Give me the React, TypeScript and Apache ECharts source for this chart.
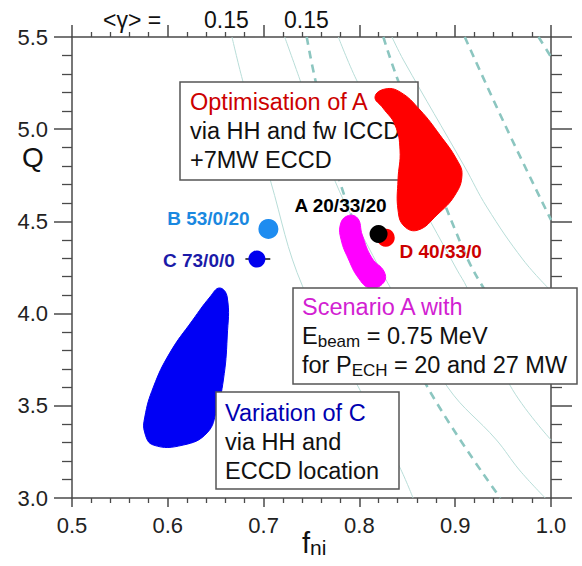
import React, { useEffect, useRef } from "react";
import * as echarts from "echarts";

// ---- axis ranges / ticks ----
const xMin = 0.5, xMax = 1.0, xStep = 0.1;
const yMin = 3.0, yMax = 5.5, yStep = 0.5;
const gammaTexts = ["<γ> =", "0.15", "0.15"];

// ---- contour lines (thin family) [f_ni, Q] ----
const thin1 = [[0.667, 5.5], [0.678, 5.267], [0.707, 4.724], [0.741, 4.144], [0.795, 3.64], [0.842, 3.168], [0.856, 3.0]];
const thin2 = [[0.722, 5.5], [0.738, 5.267], [0.775, 4.714], [0.811, 4.345], [0.832, 4.144], [0.892, 3.602], [0.943, 3.315], [0.967, 3.152], [0.994, 3.0]];
const thin3 = [[0.778, 5.5], [0.797, 5.267], [0.848, 4.752], [0.902, 4.236], [0.912, 4.144], [0.957, 3.613], [1.0, 3.315]];
const thin4 = [[0.834, 5.5], [0.846, 5.375], [0.91, 4.795], [0.933, 4.578], [0.971, 4.291], [1.0, 4.123]];
// ---- contour lines (dashed family) ----
const dash1 = [[0.745, 5.5], [0.754, 5.267], [0.78, 4.708], [0.822, 4.155], [0.871, 3.602], [0.947, 3.0]];
const dash2 = [[0.825, 5.5], [0.839, 5.283], [0.9, 4.453], [0.929, 4.144], [1.0, 3.613]];
const dash3 = [[0.91, 5.5], [0.952, 5.023], [1.0, 4.508]];
const dash4 = [[0.987, 5.5], [1.0, 5.392]];

// ---- regions ----
const redRegion = [[0.8163, 5.175], [0.8267, 5.218], [0.8424, 5.202], [0.8633, 5.104], [0.8841, 4.968], [0.9019, 4.833], [0.9071, 4.752], [0.8998, 4.643], [0.881, 4.535], [0.8612, 4.453], [0.8466, 4.475], [0.8403, 4.562], [0.8403, 4.725], [0.8424, 4.887], [0.8372, 5.023], [0.8246, 5.115]];
const pinkRegion = [[0.78, 4.48], [0.787, 4.529], [0.798, 4.518], [0.803, 4.426], [0.813, 4.302], [0.826, 4.226], [0.825, 4.166], [0.811, 4.139], [0.799, 4.193], [0.788, 4.302], [0.781, 4.399]];
const blueRegion = [[0.654, 4.139], [0.662, 4.09], [0.662, 3.873], [0.658, 3.64], [0.651, 3.477], [0.641, 3.353], [0.616, 3.287], [0.585, 3.287], [0.576, 3.353], [0.576, 3.439], [0.585, 3.602], [0.602, 3.786], [0.626, 3.965], [0.644, 4.09]];

// ---- scenario points ----
const pointA = [0.82, 4.432];
const pointB = [0.705, 4.459];
const pointC = [0.693, 4.296];
const pointD = [0.8275, 4.412];
const errorC = [[0.681, 4.296], [0.707, 4.296]];
const labelA = "A 20/33/20";
const labelB = "B 53/0/20";
const labelC = "C 73/0/0";
const labelD = "D 40/33/0";

const FONT = "'Liberation Sans', Arial, sans-serif";
const AX = "#4a4a4a";

function axisBase(pos: string, showLabel: boolean, tickLen: number, minorLen: number, isX: boolean) {
  return {
    type: "value",
    position: pos,
    min: isX ? xMin : yMin,
    max: isX ? xMax : yMax,
    interval: isX ? xStep : yStep,
    axisLine: { show: true, onZero: false, lineStyle: { color: AX, width: 1.5 } },
    axisTick: { show: true, inside: false, length: tickLen, lineStyle: { color: AX, width: 1.5 } },
    minorTick: { show: true, splitNumber: 5, length: minorLen, lineStyle: { color: AX, width: 1.3 } },
    splitLine: { show: false },
    minorSplitLine: { show: false },
    axisLabel: {
      show: showLabel,
      formatter: (v: number) => v.toFixed(1),
      fontSize: 22,
      color: "#222",
      fontFamily: FONT,
      margin: isX ? 16 : 24,
      showMinLabel: true,
      showMaxLabel: true,
    },
  };
}

function regionSeries(pts: number[][], color: string, z: number) {
  return {
    type: "custom",
    z,
    silent: true,
    data: [pts[0]],
    renderItem: (_p: any, api: any) => ({
      type: "polygon",
      shape: { points: pts.map((p) => api.coord(p)), smooth: 0.45 },
      style: { fill: color, stroke: color, lineWidth: 1 },
    }),
  };
}

function lineSeries(pts: number[][], dashed: boolean) {
  return {
    type: "line",
    data: pts,
    smooth: 0.4,
    showSymbol: false,
    silent: true,
    z: 1,
    lineStyle: dashed
      ? { color: "#8cc6c0", width: 2.6, type: [8, 6] }
      : { color: "#b8ddd8", width: 1 },
  };
}

function pointSeries(pt: number[], color: string, size: number, z: number, text: string, textColor: string, offset: number[]) {
  return {
    type: "scatter",
    data: [pt],
    symbolSize: size,
    z,
    itemStyle: { color, opacity: 1 },
    label: {
      show: true,
      position: "inside",
      offset,
      formatter: text,
      fontSize: 19,
      fontWeight: "bold",
      fontFamily: FONT,
      color: textColor,
    },
  };
}

function box(x: number, y: number, w: number, h: number, z: number) {
  return {
    type: "rect",
    z,
    shape: { x, y, width: w, height: h },
    style: { fill: "#fff", stroke: "#555", lineWidth: 1.5 },
  };
}

function txt(x: number, y: number, text: string, rich: any, z: number) {
  return {
    type: "text",
    z,
    x,
    y,
    style: { text, rich, fontFamily: FONT, fontSize: 23, fill: "#111" },
  };
}

const richBox = (mainColor: string) => ({
  m: { fontSize: 23.5, lineHeight: 29, fill: mainColor, fontFamily: FONT },
  n: { fontSize: 23.5, lineHeight: 29, fill: "#111", fontFamily: FONT },
  s: { fontSize: 17, lineHeight: 9, fill: "#111", fontFamily: FONT, verticalAlign: "bottom" },
});

export default function App() {
  const ref = useRef<HTMLDivElement>(null);
  useEffect(() => {
    if (!ref.current) return;
    const chart = echarts.init(ref.current, undefined, { renderer: "svg" });
    chart.setOption({
      animation: false,
      backgroundColor: "#fff",
      grid: { left: 72, top: 37, right: 31, bottom: 68, containLabel: false },
      xAxis: [axisBase("bottom", true, 9, 5, true), axisBase("top", false, 12, 5, true)],
      yAxis: [axisBase("left", true, 18, 10, false), axisBase("right", false, 21, 11, false)],
      series: [
        lineSeries(thin1, false),
        lineSeries(thin2, false),
        lineSeries(thin3, false),
        lineSeries(thin4, false),
        lineSeries(dash1, true),
        lineSeries(dash2, true),
        lineSeries(dash3, true),
        lineSeries(dash4, true),
        regionSeries(blueRegion, "#0000f5", 5),
        regionSeries(pinkRegion, "#ff00ff", 5),
        regionSeries(redRegion, "#ff0000", 12),
        {
          type: "line",
          data: errorC,
          showSymbol: false,
          silent: true,
          z: 11,
          lineStyle: { color: "#111", width: 1.5 },
        },
        pointSeries(pointB, "#1e8cf0", 20, 13, labelB, "#1a88e0", [-60, -10]),
        pointSeries(pointC, "#0000ee", 17, 13, labelC, "#1a1aa8", [-58, 1]),
        pointSeries(pointD, "#ff0000", 18, 13, labelD, "#cc0000", [55, 14]),
        pointSeries(pointA, "#000000", 18, 14, labelA, "#000", [-38, -28]),
      ],
      graphic: [
        box(180, 82, 238, 98, 8),
        txt(190, 87, "{m|Optimisation of A}\n{n|via HH and fw ICCD}\n{n|+7MW ECCD}", richBox("#cc0000"), 9),
        box(293, 288, 284, 96, 20),
        txt(302, 292, "{m|Scenario A with}\n{n|E}{s|beam}{n| = 0.75 MeV}\n{n|for P}{s|ECH}{n| = 20 and 27 MW}", richBox("#d21fd2"), 21),
        box(216, 392, 183, 97, 20),
        txt(225, 398, "{m|Variation of C}\n{n|via HH and}\n{n|ECCD location}", richBox("#0000b0"), 21),
        txt(103, 8, gammaTexts[0], null, 20),
        txt(204, 8, gammaTexts[1], null, 20),
        txt(284, 8, gammaTexts[2], null, 20),
        { type: "text", z: 20, x: 22, y: 143, style: { text: "Q", fontSize: 28, fontFamily: FONT, fill: "#111" } },
        {
          type: "text",
          z: 20,
          x: 302,
          y: 528,
          style: {
            text: "{f|f}{s|ni}",
            rich: {
              f: { fontSize: 29, lineHeight: 30, fontFamily: FONT, fill: "#111" },
              s: { fontSize: 21, lineHeight: 12, fontFamily: FONT, fill: "#111", verticalAlign: "bottom" },
            },
          },
        },
      ],
    });
    return () => chart.dispose();
  }, []);
  return <div ref={ref} style={{ position: "fixed", left: 0, top: 0, width: 582, height: 566 }} />;
}
